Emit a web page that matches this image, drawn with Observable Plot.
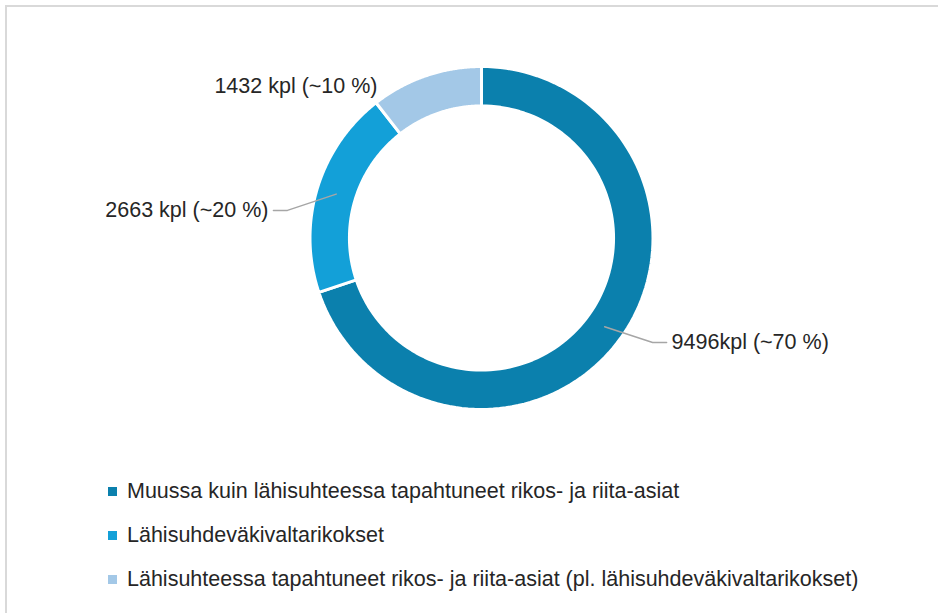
<!DOCTYPE html>
<html>
<head>
<meta charset="utf-8">
<script src="https://cdn.jsdelivr.net/npm/d3@7"></script>
<script src="https://cdn.jsdelivr.net/npm/@observablehq/plot@0.6"></script>
<style>
  html, body { margin: 0; padding: 0; background: #fff; }
  #wrap { position: relative; width: 938px; height: 613px; overflow: hidden; }
  #frame { position: absolute; left: 5px; top: 5px; width: 960px; height: 640px;
           border-top: 2px solid #d9d9d9; border-left: 2px solid #d9d9d9; }
  #chart { position: absolute; left: 0; top: 0; }
  #legend { position: absolute; left: 108px; top: 469px; font-family: "Liberation Sans", Arial, sans-serif;
            font-size: 21.5px; color: #262626; }
  .row { height: 44px; display: flex; align-items: center; }
  .sw { width: 9px; height: 9px; margin-right: 10px; flex: none; }
</style>
</head>
<body>
<div id="wrap">
  <div id="frame"></div>
  <div id="chart"></div>
  <div id="legend"></div>
</div>
<script>
// ---- data ----
const categories = [
  "Muussa kuin lähisuhteessa tapahtuneet rikos- ja riita-asiat",
  "Lähisuhdeväkivaltarikokset",
  "Lähisuhteessa tapahtuneet rikos- ja riita-asiat (pl. lähisuhdeväkivaltarikokset)"
];
const counts = [9496, 2663, 1432];
const labels = ["9496kpl (~70 %)", "2663 kpl (~20 %)", "1432 kpl (~10 %)"];
const colors = ["#0b80ad", "#13a0d8", "#a3c8e7"];

// ---- label layout (polar, degrees clockwise from top; radius in ring units) ----
const labelAngle = [121.4, 278.1, 325.6];
const labelRadius = [1.169, 1.143, 1.073];
const hasLeader = [true, true, false];

// ---- geometry ----
const R = 1, r0 = 0.77, unit = 171.5;
const W = 938, H = 460, cx = 481, cy = 237.5;
const pie = d3.pie().sort(null).value(d => d)(counts);
const polar = (a, rr) => [Math.sin(a) * rr, Math.cos(a) * rr];

const ringPts = [];
pie.forEach((p, i) => {
  const n = 120;
  for (let k = 0; k <= n; k++) {
    const a = p.startAngle + (p.endAngle - p.startAngle) * k / n;
    const [x, y] = polar(a, R);
    ringPts.push({cat: categories[i], x, y});
  }
  for (let k = n; k >= 0; k--) {
    const a = p.startAngle + (p.endAngle - p.startAngle) * k / n;
    const [x, y] = polar(a, r0);
    ringPts.push({cat: categories[i], x, y});
  }
});

const leaderPts = [];
const textPts = [];
pie.forEach((p, i) => {
  const la = labelAngle[i] * Math.PI / 180;
  const [ex, ey] = polar(la, labelRadius[i]);
  const side = ex >= 0 ? 1 : -1;
  if (hasLeader[i]) {
    const mid = (p.startAngle + p.endAngle) / 2;
    const [mx, my] = polar(mid, (R + r0) / 2);
    const hx = ex + side * 14 / unit;
    leaderPts.push({cat: categories[i], x: mx, y: my});
    leaderPts.push({cat: categories[i], x: ex, y: ey});
    leaderPts.push({cat: categories[i], x: hx, y: ey});
    textPts.push({label: labels[i], x: hx, y: ey, anchor: side > 0 ? "start" : "end", dx: side * 5});
  } else {
    textPts.push({label: labels[i], x: ex, y: ey, anchor: "end", dx: 0});
  }
});

const chart = Plot.plot({
  width: W, height: H,
  margin: 0,
  x: {domain: [-cx / unit, (W - cx) / unit], axis: null},
  y: {domain: [-(H - cy) / unit, cy / unit], axis: null},
  color: {domain: categories, range: colors},
  style: {fontFamily: "'Liberation Sans', Arial, sans-serif", background: "transparent"},
  marks: [
    Plot.line(ringPts, {x: "x", y: "y", z: "cat", fill: "cat", stroke: "white", strokeWidth: 3, curve: "linear-closed"}),
    Plot.line(leaderPts, {x: "x", y: "y", z: "cat", stroke: "#a6a6a6", strokeWidth: 1.5}),
    ...textPts.map(t => Plot.text([t], {x: "x", y: "y", text: "label", textAnchor: t.anchor, dx: t.dx,
      fontSize: 21.5, fill: "#262626"}))
  ]
});
document.getElementById("chart").appendChild(chart);

const legend = document.getElementById("legend");
categories.forEach((c, i) => {
  const row = document.createElement("div");
  row.className = "row";
  const sw = document.createElement("span");
  sw.className = "sw";
  sw.style.background = colors[i];
  const tx = document.createElement("span");
  tx.textContent = c;
  row.appendChild(sw);
  row.appendChild(tx);
  legend.appendChild(row);
});
</script>
</body>
</html>
